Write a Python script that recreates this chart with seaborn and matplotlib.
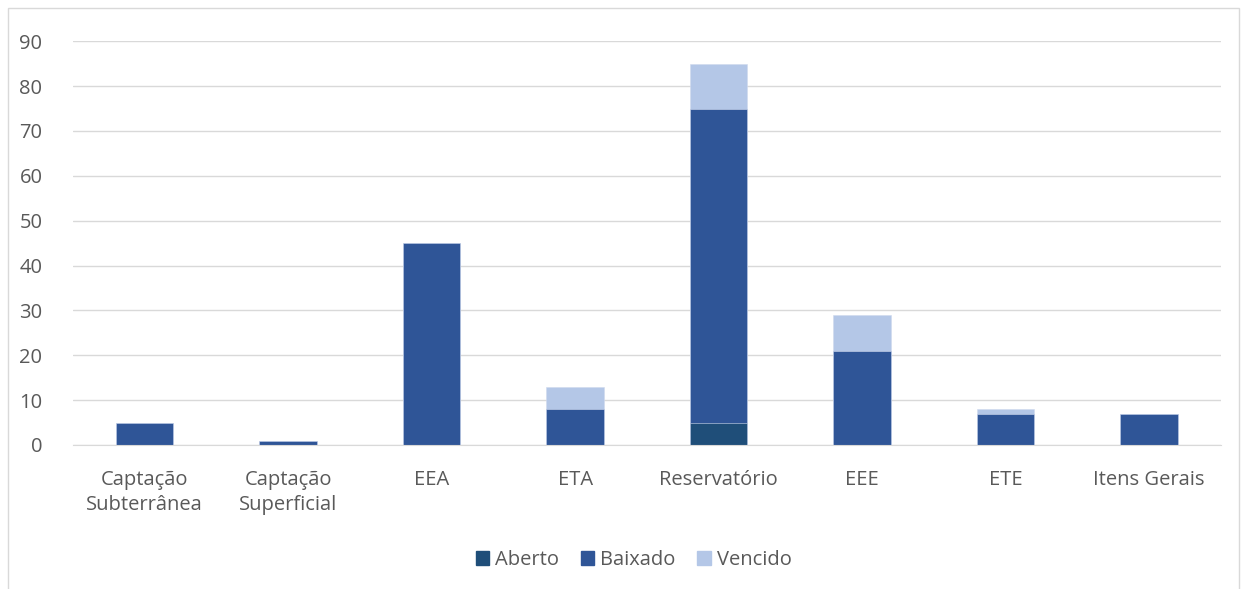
import matplotlib
matplotlib.use("Agg")
import matplotlib.pyplot as plt
import seaborn as sns
import pandas as pd
from matplotlib.patches import Patch, Rectangle

categorias = ["Captação\nSubterrânea", "Captação\nSuperficial", "EEA", "ETA",
              "Reservatório", "EEE", "ETE", "Itens Gerais"]
aberto = [0, 0, 0, 0, 5, 0, 0, 0]
baixado = [5, 1, 45, 8, 70, 21, 7, 7]
vencido = [0, 0, 0, 5, 10, 8, 1, 0]

cores = {"Aberto": "#1F4E79", "Baixado": "#2F5597", "Vencido": "#B4C7E7"}

df = pd.DataFrame({"cat": categorias, "Aberto": aberto, "Baixado": baixado, "Vencido": vencido})
df["ate_baixado"] = df["Aberto"] + df["Baixado"]
df["total"] = df["ate_baixado"] + df["Vencido"]

sns.set_style("white")
plt.rcParams["font.family"] = ["Open Sans", "DejaVu Sans"]
texto = "#595959"

fig = plt.figure(figsize=(12.47, 5.89), dpi=100)
ax = fig.add_axes([0.0585, 0.2445, 0.9205, 0.6855])

for col, serie in [("total", "Vencido"), ("ate_baixado", "Baixado"), ("Aberto", "Aberto")]:
    sns.barplot(data=df, x="cat", y=col, color=cores[serie], width=0.4, ax=ax,
                edgecolor="#D0DAEE", linewidth=0.4, saturation=1)

ax.set_ylim(0, 90)
ax.set_yticks(range(0, 91, 10))
ax.yaxis.grid(True, color="#D9D9D9", linewidth=1)
ax.set_axisbelow(True)
for s in ["top", "right", "left"]:
    ax.spines[s].set_visible(False)
ax.spines["bottom"].set_color("#D9D9D9")
ax.set_xlabel("")
ax.set_ylabel("")
ax.tick_params(axis="both", length=0, labelsize=14.5, colors=texto)
ax.tick_params(axis="x", pad=18)
ax.tick_params(axis="y", pad=22)
for t in ax.get_xticklabels():
    t.set_linespacing(1.35)

handles = [Patch(color=cores[k], label=k) for k in ["Aberto", "Baixado", "Vencido"]]
fig.legend(handles=handles, loc="center", bbox_to_anchor=(0.508, 0.049), ncol=3,
           frameon=False, fontsize=14.5, labelcolor=texto, handlelength=0.65,
           handleheight=0.65, handletextpad=0.3, columnspacing=1.1)

fig.patches.append(Rectangle((8 / 1247, -0.01), 1231 / 1247, 1 - 8 / 589 + 0.01,
                             transform=fig.transFigure, fill=False,
                             edgecolor="#D9D9D9", linewidth=1))

fig.savefig("out.png", dpi=100)
